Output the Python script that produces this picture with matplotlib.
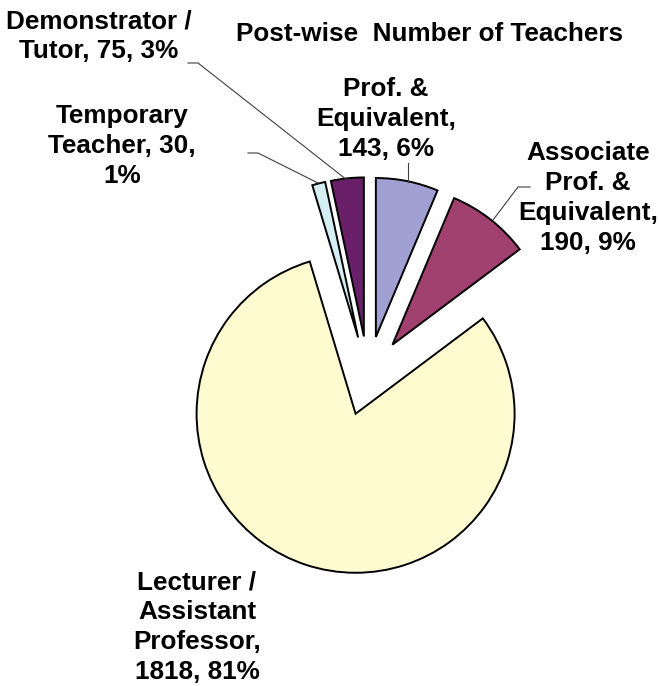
import matplotlib
matplotlib.use("Agg")
import matplotlib.pyplot as plt

categories = ["Prof. &\nEquivalent", "Associate\nProf. &\nEquivalent", "Lecturer /\nAssistant\nProfessor",
              "Temporary\nTeacher", "Demonstrator /\nTutor"]
values = [143, 190, 1818, 30, 75]
percents = [6, 9, 81, 1, 3]
colors = ["#A0A0D2", "#A0406E", "#FFFBD0", "#D4EEF4", "#6A2068"]

W, H = 659, 686
CX, CY, R = 368, 376, 159  # pie centre / radius in pixels


def px(x, y):
    """pixel (from top-left) -> data coords of the pie axes"""
    return (x - CX) / R, (CY - y) / R


plt.rcParams["font.family"] = ["Liberation Sans", "DejaVu Sans"]
fig = plt.figure(figsize=(W / 100, H / 100), dpi=100)
ax = fig.add_axes([0, 0, 1, 1])
ax.pie(values, radius=1, center=(0, 0), startangle=90, counterclock=False,
       explode=[0.25] * len(values), colors=colors,
       wedgeprops=dict(edgecolor="black", linewidth=1.4))
ax.set_xlim(-CX / R, (W - CX) / R)
ax.set_ylim(-(H - CY) / R, CY / R)
ax.set_aspect("equal")
ax.axis("off")

# line breaks as in the original
labels = [
    f"Prof. &\nEquivalent,\n{values[0]}, {percents[0]}%",
    f"Associate\nProf. &\nEquivalent,\n{values[1]}, {percents[1]}%",
    f"Lecturer /\nAssistant\nProfessor,\n{values[2]}, {percents[2]}%",
    f"Temporary\nTeacher, {values[3]},\n{percents[3]}%",
    f"Demonstrator /\nTutor, {values[4]}, {percents[4]}%",
]

label_pos = [(386, 119), (588, 198), (197, 627), (122, 146), (99, 36)]
for lab, (x, y) in zip(labels, label_pos):
    ax.text(*px(x, y), lab, ha="center", va="center", fontsize=18.8,
            fontweight="bold", linespacing=1.3)

# leader lines
leaders = [
    [(408, 163), (408, 182)],
    [(530, 187), (518, 187), (493, 220)],
    [(248, 153), (258, 153), (318, 183)],
    [(188, 63), (198, 63), (347, 180)],
]
for pts in leaders:
    xs, ys = zip(*[px(x, y) for x, y in pts])
    ax.plot(xs, ys, color="#404040", linewidth=0.8)

ax.text(*px(430, 34), "Post-wise  Number of Teachers", ha="center", va="center",
        fontsize=18.8, fontweight="bold")

fig.savefig("out.png", dpi=100)
